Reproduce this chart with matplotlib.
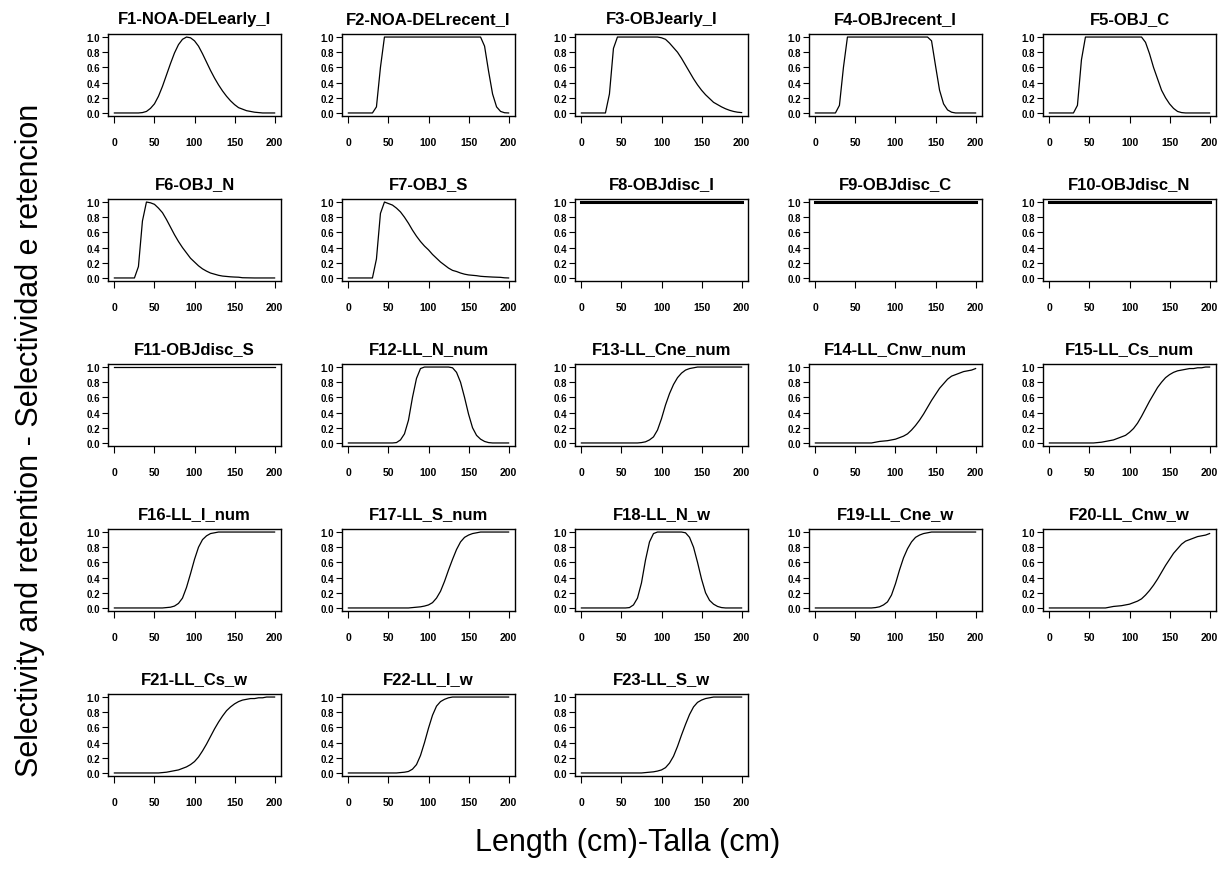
import matplotlib
matplotlib.use("Agg")
import matplotlib.pyplot as plt
import numpy as np

# Length bins (cm) shared by every fleet curve
lengths = list(range(0, 201, 5))

# Selectivity / retention at each length bin, one list per fleet
F1 = [0, 0, 0, 0, 0, 0, 0, 0.005, 0.02, 0.06, 0.12, 0.22, 0.35, 0.5, 0.65, 0.79, 0.9, 0.97, 1.0, 0.99,
      0.95, 0.88, 0.78, 0.67, 0.56, 0.46, 0.37, 0.29, 0.22, 0.16, 0.11, 0.07, 0.05, 0.03, 0.02, 0.01,
      0.005, 0, 0, 0, 0]
F2 = [0, 0, 0, 0, 0, 0, 0, 0.08, 0.6, 1.0, 1.0, 1.0, 1.0, 1.0, 1.0, 1.0, 1.0, 1.0, 1.0, 1.0,
      1.0, 1.0, 1.0, 1.0, 1.0, 1.0, 1.0, 1.0, 1.0, 1.0, 1.0, 1.0, 1.0, 1.0, 0.88, 0.55, 0.25, 0.08,
      0.02, 0.003, 0]
F3 = [0, 0, 0, 0, 0, 0, 0, 0.25, 0.85, 1.0, 1.0, 1.0, 1.0, 1.0, 1.0, 1.0, 1.0, 1.0, 1.0, 1.0,
      0.99, 0.97, 0.92, 0.86, 0.8, 0.72, 0.63, 0.54, 0.45, 0.37, 0.3, 0.24, 0.19, 0.14, 0.11, 0.08,
      0.055, 0.035, 0.02, 0.01, 0.005]
F4 = [0, 0, 0, 0, 0, 0, 0.1, 0.6, 1.0, 1.0, 1.0, 1.0, 1.0, 1.0, 1.0, 1.0, 1.0, 1.0, 1.0, 1.0,
      1.0, 1.0, 1.0, 1.0, 1.0, 1.0, 1.0, 1.0, 1.0, 0.95, 0.62, 0.3, 0.12, 0.04, 0.01, 0,
      0, 0, 0, 0, 0]
F5 = [0, 0, 0, 0, 0, 0, 0, 0.1, 0.7, 1.0, 1.0, 1.0, 1.0, 1.0, 1.0, 1.0, 1.0, 1.0, 1.0, 1.0,
      1.0, 1.0, 1.0, 1.0, 0.93, 0.78, 0.6, 0.45, 0.3, 0.2, 0.12, 0.06, 0.02, 0.005, 0, 0,
      0, 0, 0, 0, 0]
F6 = [0, 0, 0, 0, 0, 0, 0.15, 0.75, 1.0, 0.99, 0.97, 0.92, 0.86, 0.77, 0.67, 0.57, 0.48, 0.4, 0.33, 0.26,
      0.21, 0.16, 0.12, 0.09, 0.065, 0.05, 0.035, 0.025, 0.02, 0.015, 0.012, 0.01, 0.003, 0.002, 0.001, 0,
      0, 0, 0, 0, 0]
F7 = [0, 0, 0, 0, 0, 0, 0, 0.25, 0.85, 1.0, 0.98, 0.96, 0.92, 0.87, 0.8, 0.72, 0.63, 0.55, 0.48, 0.42,
      0.37, 0.31, 0.26, 0.21, 0.17, 0.13, 0.1, 0.085, 0.065, 0.05, 0.04, 0.035, 0.03, 0.022, 0.018, 0.015,
      0.012, 0.01, 0.008, 0.002, 0]
F8 = [1.0] * 41
F9 = [1.0] * 41
F10 = [1.0] * 41
F11 = [1.0] * 41
F12 = [0, 0, 0, 0, 0, 0, 0, 0, 0, 0, 0, 0, 0.005, 0.04, 0.12, 0.3, 0.6, 0.85, 0.98, 1.0,
       1.0, 1.0, 1.0, 1.0, 1.0, 1.0, 0.99, 0.93, 0.8, 0.6, 0.38, 0.2, 0.1, 0.05, 0.02, 0.005,
       0, 0, 0, 0, 0]
F13 = [0, 0, 0, 0, 0, 0, 0, 0, 0, 0, 0, 0, 0, 0, 0, 0.005, 0.015, 0.04, 0.08, 0.17,
       0.32, 0.5, 0.65, 0.77, 0.86, 0.92, 0.96, 0.98, 0.99, 1.0, 1.0, 1.0, 1.0, 1.0, 1.0, 1.0,
       1.0, 1.0, 1.0, 1.0, 1.0]
F14 = [0, 0, 0, 0, 0, 0, 0, 0, 0, 0, 0, 0, 0, 0, 0, 0.01, 0.02, 0.025, 0.03, 0.04,
       0.05, 0.07, 0.09, 0.12, 0.17, 0.23, 0.3, 0.38, 0.47, 0.56, 0.64, 0.72, 0.78, 0.84, 0.88, 0.9,
       0.92, 0.94, 0.95, 0.96, 0.98]
F15 = [0, 0, 0, 0, 0, 0, 0, 0, 0, 0, 0, 0, 0.005, 0.01, 0.02, 0.03, 0.04, 0.06, 0.08, 0.1,
       0.14, 0.19, 0.26, 0.35, 0.45, 0.55, 0.64, 0.73, 0.8, 0.86, 0.9, 0.93, 0.95, 0.96, 0.97, 0.98,
       0.98, 0.99, 0.99, 1.0, 1.0]
F16 = [0, 0, 0, 0, 0, 0, 0, 0, 0, 0, 0, 0, 0, 0.005, 0.01, 0.025, 0.06, 0.13, 0.27, 0.45,
       0.64, 0.8, 0.9, 0.95, 0.98, 0.99, 1.0, 1.0, 1.0, 1.0, 1.0, 1.0, 1.0, 1.0, 1.0, 1.0,
       1.0, 1.0, 1.0, 1.0, 1.0]
F17 = [0, 0, 0, 0, 0, 0, 0, 0, 0, 0, 0, 0, 0, 0, 0, 0, 0.005, 0.01, 0.015, 0.025,
       0.04, 0.07, 0.13, 0.22, 0.35, 0.5, 0.64, 0.77, 0.87, 0.93, 0.96, 0.98, 0.99, 1.0, 1.0, 1.0,
       1.0, 1.0, 1.0, 1.0, 1.0]
F18 = [0, 0, 0, 0, 0, 0, 0, 0, 0, 0, 0, 0, 0.005, 0.04, 0.13, 0.33, 0.63, 0.87, 0.98, 1.0,
       1.0, 1.0, 1.0, 1.0, 1.0, 1.0, 0.99, 0.93, 0.8, 0.6, 0.38, 0.2, 0.1, 0.05, 0.02, 0.005,
       0, 0, 0, 0, 0]
F19 = [0, 0, 0, 0, 0, 0, 0, 0, 0, 0, 0, 0, 0, 0, 0, 0.005, 0.015, 0.04, 0.08, 0.17,
       0.32, 0.5, 0.66, 0.78, 0.87, 0.93, 0.96, 0.98, 0.99, 1.0, 1.0, 1.0, 1.0, 1.0, 1.0, 1.0,
       1.0, 1.0, 1.0, 1.0, 1.0]
F20 = [0, 0, 0, 0, 0, 0, 0, 0, 0, 0, 0, 0, 0, 0, 0, 0.01, 0.02, 0.025, 0.03, 0.04,
       0.05, 0.07, 0.09, 0.12, 0.17, 0.23, 0.3, 0.38, 0.47, 0.56, 0.64, 0.72, 0.78, 0.84, 0.88, 0.9,
       0.92, 0.94, 0.95, 0.96, 0.98]
F21 = [0, 0, 0, 0, 0, 0, 0, 0, 0, 0, 0, 0, 0.005, 0.01, 0.02, 0.03, 0.04, 0.06, 0.08, 0.11,
       0.15, 0.21, 0.29, 0.38, 0.48, 0.58, 0.67, 0.75, 0.82, 0.87, 0.91, 0.94, 0.96, 0.97, 0.98, 0.98,
       0.99, 0.99, 1.0, 1.0, 1.0]
F22 = [0, 0, 0, 0, 0, 0, 0, 0, 0, 0, 0, 0, 0, 0.005, 0.01, 0.02, 0.05, 0.11, 0.23, 0.4,
       0.59, 0.76, 0.88, 0.94, 0.97, 0.99, 1.0, 1.0, 1.0, 1.0, 1.0, 1.0, 1.0, 1.0, 1.0, 1.0,
       1.0, 1.0, 1.0, 1.0, 1.0]
F23 = [0, 0, 0, 0, 0, 0, 0, 0, 0, 0, 0, 0, 0, 0, 0, 0, 0.005, 0.01, 0.015, 0.025,
       0.04, 0.07, 0.13, 0.22, 0.35, 0.5, 0.64, 0.77, 0.87, 0.93, 0.96, 0.98, 0.99, 1.0, 1.0, 1.0,
       1.0, 1.0, 1.0, 1.0, 1.0]

fleet_names = ["F1-NOA-DELearly_I", "F2-NOA-DELrecent_I", "F3-OBJearly_I", "F4-OBJrecent_I",
               "F5-OBJ_C", "F6-OBJ_N", "F7-OBJ_S", "F8-OBJdisc_I", "F9-OBJdisc_C",
               "F10-OBJdisc_N", "F11-OBJdisc_S", "F12-LL_N_num", "F13-LL_Cne_num",
               "F14-LL_Cnw_num", "F15-LL_Cs_num", "F16-LL_I_num", "F17-LL_S_num",
               "F18-LL_N_w", "F19-LL_Cne_w", "F20-LL_Cnw_w", "F21-LL_Cs_w", "F22-LL_I_w",
               "F23-LL_S_w"]
fleet_values = [F1, F2, F3, F4, F5, F6, F7, F8, F9, F10, F11, F12, F13, F14, F15, F16,
                F17, F18, F19, F20, F21, F22, F23]
# the three discard fleets are drawn with a heavier line
heavy = {"F8-OBJdisc_I", "F9-OBJdisc_C", "F10-OBJdisc_N"}

x_ticks = [0, 50, 100, 150, 200]
y_ticks = [0.0, 0.2, 0.4, 0.6, 0.8, 1.0]

W, H = 1228, 879
fig = plt.figure(figsize=(W / 100, H / 100), dpi=100)
fig.patch.set_facecolor("white")

col_left = [108, 342, 575, 809, 1043]
row_top = [35, 200, 365, 530, 695]
aw, ah = 173, 82

for i, (name, vals) in enumerate(zip(fleet_names, fleet_values)):
    r, c = divmod(i, 5)
    left = col_left[c] / W
    bottom = 1 - (row_top[r] + ah) / H
    ax = fig.add_axes([left, bottom, aw / W, ah / H])
    ax.plot(lengths, vals, color="black", lw=2.2 if name in heavy else 0.9)
    ax.set_xlim(-8, 208)
    ax.set_ylim(-0.04, 1.04)
    ax.set_xticks(x_ticks)
    ax.set_xticklabels([str(t) for t in x_ticks], fontsize=7.5, fontweight="bold",
                       family="Liberation Sans")
    ax.set_yticks(y_ticks)
    ax.set_yticklabels([f"{t:.1f}" for t in y_ticks], fontsize=7, fontweight="bold",
                       family="Liberation Sans")
    ax.tick_params(axis="x", length=5, width=0.8, pad=10, direction="out")
    ax.tick_params(axis="y", length=4, width=0.8, pad=1.5, direction="out")
    for s in ax.spines.values():
        s.set_linewidth(1.0)
    ax.set_title(name, fontsize=12, fontweight="bold", family="Liberation Sans", pad=8)

fig.text(30 / W, 1 - 440 / H, "Selectivity and retention - Selectividad e retencion",
         rotation=90, ha="center", va="center", fontsize=22, family="Liberation Sans")
fig.text(628 / W, 1 - 843 / H, "Length (cm)-Talla (cm)",
         ha="center", va="center", fontsize=22, family="Liberation Sans")

fig.savefig("out.png", dpi=100, facecolor="white")
